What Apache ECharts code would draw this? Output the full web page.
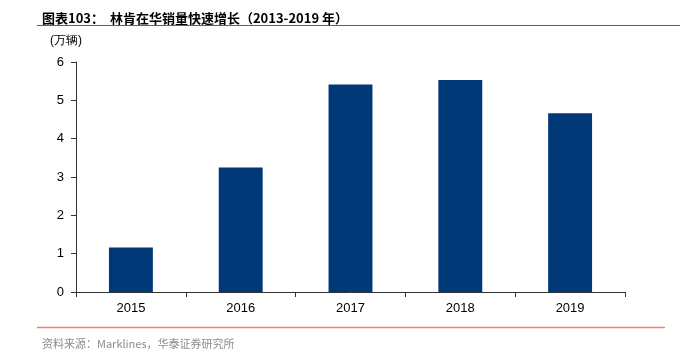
<html>
<head>
<meta charset="utf-8">
<script src="https://cdn.jsdelivr.net/npm/echarts@6/dist/echarts.min.js"></script>
<style>
  html, body { margin: 0; padding: 0; background: #fff; }
  #main { width: 680px; height: 354px; }
</style>
</head>
<body>
<div id="main"></div>
<script>
var years = ['2015', '2016', '2017', '2018', '2019'];
var sales = [1.16, 3.25, 5.41, 5.53, 4.66];
var yTicks = { min: 0, max: 6, interval: 1 };

var myChart = echarts.init(document.getElementById('main'));

var option = {
    animation: false,
    textStyle: { fontFamily: 'Liberation Sans, Arial, sans-serif' },
    title: [
        {
            text: '图表103：  林肯在华销量快速增长（2013-2019 年）',
            left: 37, top: 7,
            textStyle: { fontSize: 13, fontWeight: 'bold', color: '#000', fontFamily: 'Noto Sans CJK SC, sans-serif' }
        },
        {
            text: '资料来源：Marklines，华泰证券研究所',
            left: 37, top: 333,
            textStyle: { fontSize: 11, fontWeight: 'normal', color: '#8c8c8c', fontFamily: 'Noto Sans CJK SC, sans-serif' }
        }
    ],
    graphic: [
        { type: 'line', shape: { x1: 37, y1: 25.5, x2: 680, y2: 25.5 }, style: { stroke: '#c0392b', lineWidth: 1.2 } },
        { type: 'line', shape: { x1: 37, y1: 327.5, x2: 665, y2: 327.5 }, style: { stroke: '#f08070', lineWidth: 1.5 } },
        { type: 'text', left: 50, top: 35, style: { text: '(万辆)', fontSize: 12, fill: '#000', font: '12px Noto Sans CJK SC' } }
    ],
    grid: { left: 76, right: 55, top: 62, bottom: 62 },
    xAxis: {
        type: 'category',
        data: years,
        axisLine: { lineStyle: { color: '#333', width: 1 } },
        axisTick: { show: true, length: 5, lineStyle: { color: '#333' } },
        axisLabel: { color: '#000', fontSize: 13, margin: 10 }
    },
    yAxis: {
        type: 'value',
        min: yTicks.min, max: yTicks.max, interval: yTicks.interval,
        axisLine: { show: true, lineStyle: { color: '#333', width: 1 } },
        axisTick: { show: true, length: 5, lineStyle: { color: '#333' } },
        axisLabel: { color: '#000', fontSize: 13, margin: 12 },
        splitLine: { show: false }
    },
    series: [
        {
            type: 'bar',
            data: sales,
            barWidth: '40%',
            itemStyle: { color: '#003878' }
        }
    ]
};

myChart.setOption(option);
</script>
</body>
</html>
